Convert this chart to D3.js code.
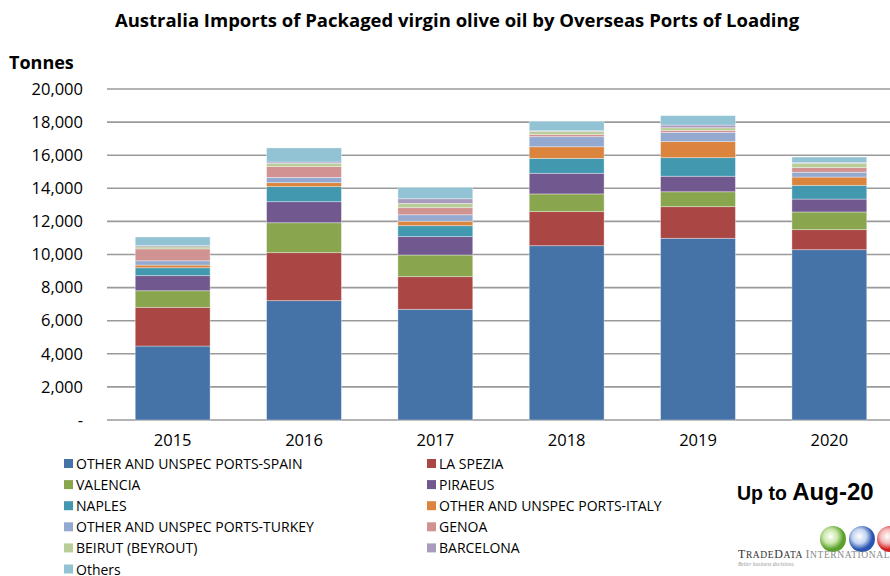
<!DOCTYPE html>
<html>
<head>
<meta charset="utf-8">
<script src="https://cdn.jsdelivr.net/npm/d3@7"></script>
<style>
  body { margin: 0; background: #fff; }
  svg { display: block; font-family: "Open Sans", "Liberation Sans", sans-serif; }
</style>
</head>
<body>
<svg id="chart" width="890" height="576"></svg>
<script>
// years on the x axis
var years = ['2015', '2016', '2017', '2018', '2019', '2020'];

// series, bottom to top (tonnes)
var seriesNames = [
  'OTHER AND UNSPEC PORTS-SPAIN', 'LA SPEZIA', 'VALENCIA', 'PIRAEUS', 'NAPLES',
  'OTHER AND UNSPEC PORTS-ITALY', 'OTHER AND UNSPEC PORTS-TURKEY', 'GENOA',
  'BEIRUT (BEYROUT)', 'BARCELONA', 'Others'
];
var spain     = [4470, 7210, 6690, 10530, 10980, 10290];
var laSpezia  = [2340, 2900, 1970, 2060, 1910, 1210];
var valencia  = [1000, 1810, 1310, 1070, 900, 1070];
var piraeus   = [910, 1270, 1110, 1250, 940, 780];
var naples    = [480, 910, 660, 900, 1120, 830];
var italy     = [160, 240, 270, 700, 970, 500];
var turkey    = [260, 320, 390, 610, 560, 290];
var genoa     = [720, 650, 430, 140, 120, 280];
var beirut    = [120, 200, 260, 180, 160, 260];
var barcelona = [80, 80, 280, 40, 160, 40];
var others    = [520, 850, 690, 570, 570, 340];

var yTicks = [0, 2000, 4000, 6000, 8000, 10000, 12000, 14000, 16000, 18000, 20000];
var colors = ['#4572A7', '#AA4643', '#89A54E', '#71588F', '#4198AF', '#DB843D',
              '#93A9CF', '#D19392', '#B9CD96', '#A99BBD', '#92C3D5'];

(function() {
  var values = [spain, laSpezia, valencia, piraeus, naples, italy, turkey, genoa, beirut, barcelona, others];
  var rows = years.map(function(yr, i) {
    var r = { year: yr };
    seriesNames.forEach(function(s, k) { r[s] = values[k][i]; });
    return r;
  });

  var svg = d3.select('#chart');
  var pLeft = 107, pRight = 895, pTop = 89, pBottom = 420;

  var x = d3.scaleBand().domain(years).range([pLeft, pRight]).paddingInner(0.43).paddingOuter(0.215);
  var y = d3.scaleLinear().domain([0, 20000]).range([pBottom, pTop]);
  var color = d3.scaleOrdinal().domain(seriesNames).range(colors);

  // title
  svg.append('text')
    .attr('x', 457).attr('y', 27)
    .attr('text-anchor', 'middle')
    .attr('font-weight', 'bold').attr('font-size', 18.5)
    .text('Australia Imports of Packaged virgin olive oil by Overseas Ports of Loading');

  svg.append('text')
    .attr('x', 9).attr('y', 69)
    .attr('font-weight', 'bold').attr('font-size', 18)
    .text('Tonnes');

  // grid
  svg.append('g').selectAll('line').data(yTicks).enter().append('line')
    .attr('x1', pLeft).attr('x2', 890)
    .attr('y1', function(d) { return y(d); })
    .attr('y2', function(d) { return y(d); })
    .attr('stroke', '#9a9a9a').attr('stroke-width', 1.6);

  // y axis labels
  var yAxis = d3.axisLeft(y).tickValues(yTicks).tickSize(0).tickPadding(0)
    .tickFormat(function(d) { return d === 0 ? '-' : d3.format(',')(d); });
  var yg = svg.append('g').attr('transform', 'translate(83,0)').call(yAxis);
  yg.select('.domain').remove();
  yg.selectAll('text').attr('font-size', 16.5).attr('fill', '#000')
    .attr('font-family', '"Open Sans", sans-serif');

  // stacked bars
  var stacked = d3.stack().keys(seriesNames)(rows);
  svg.append('g').selectAll('g').data(stacked).enter().append('g')
    .attr('fill', function(d) { return color(d.key); })
    .selectAll('rect').data(function(d) { return d; }).enter().append('rect')
    .attr('x', function(d) { return x(d.data.year); })
    .attr('width', x.bandwidth())
    .attr('y', function(d) { return y(d[1]); })
    .attr('height', function(d) { return y(d[0]) - y(d[1]); })
    .attr('stroke', 'rgba(255,255,255,0.45)').attr('stroke-width', 0.8);

  // x axis labels
  var xAxis = d3.axisBottom(x).tickSize(0).tickPadding(0);
  var xg = svg.append('g').attr('transform', 'translate(0,' + (pBottom + 14) + ')').call(xAxis);
  xg.select('.domain').remove();
  xg.selectAll('text').attr('font-size', 16.5).attr('fill', '#000')
    .attr('font-family', '"Open Sans", sans-serif');

  // legend
  var items = svg.append('g').selectAll('g').data(seriesNames).enter().append('g')
    .attr('transform', function(d, i) {
      var col = i % 2, row = Math.floor(i / 2);
      return 'translate(' + (col ? 427 : 64) + ',' + (464 + row * 21.1) + ')';
    });
  items.append('rect').attr('x', 0).attr('y', -5).attr('width', 9).attr('height', 9)
    .attr('fill', function(d) { return color(d); });
  items.append('text').attr('x', 12).attr('y', 5)
    .attr('font-size', 14)
    .text(function(d) { return d; });

  // note
  var note = svg.append('text').attr('x', 737).attr('y', 500).attr('font-weight', 'bold')
    .attr('font-family', '"Liberation Sans", sans-serif');
  note.append('tspan').attr('font-size', 19.5).text('Up to ');
  note.append('tspan').attr('font-size', 24).text(' Aug-20');

  // logo
  var globes = [{ cx: 833, c1: '#c9e6a8', c2: '#5aa02c' }, { cx: 862, c1: '#c4d4f0', c2: '#2a55b0' }, { cx: 890, c1: '#f4b8b8', c2: '#d42020' }];
  var defs = svg.append('defs');
  globes.forEach(function(g, i) {
    var gr = defs.append('radialGradient').attr('id', 'gl' + i).attr('cx', '40%').attr('cy', '40%');
    gr.append('stop').attr('offset', '0%').attr('stop-color', '#ffffff');
    gr.append('stop').attr('offset', '55%').attr('stop-color', g.c1);
    gr.append('stop').attr('offset', '100%').attr('stop-color', g.c2);
    svg.append('circle').attr('cx', g.cx).attr('cy', 539).attr('r', 13)
      .attr('fill', 'url(#gl' + i + ')');
  });
  var logo = svg.append('text').attr('x', 738).attr('y', 558)
    .attr('font-family', '"Liberation Serif", "DejaVu Serif", serif').attr('letter-spacing', 0.6);
  logo.append('tspan').attr('fill', '#333').attr('font-size', 12).text('T');
  logo.append('tspan').attr('fill', '#333').attr('font-size', 9.5).text('RADE');
  logo.append('tspan').attr('fill', '#333').attr('font-size', 12).text('D');
  logo.append('tspan').attr('fill', '#333').attr('font-size', 9.5).text('ATA ');
  logo.append('tspan').attr('fill', '#888').attr('font-size', 12).text('I');
  logo.append('tspan').attr('fill', '#888').attr('font-size', 9.5).text('NTERNATIONAL');
  svg.append('text').attr('x', 738).attr('y', 566)
    .attr('font-family', '"Liberation Serif", serif').attr('font-style', 'italic')
    .attr('font-size', 5.5).attr('fill', '#999').text('Better business decisions.');
})();
</script>
</body>
</html>
